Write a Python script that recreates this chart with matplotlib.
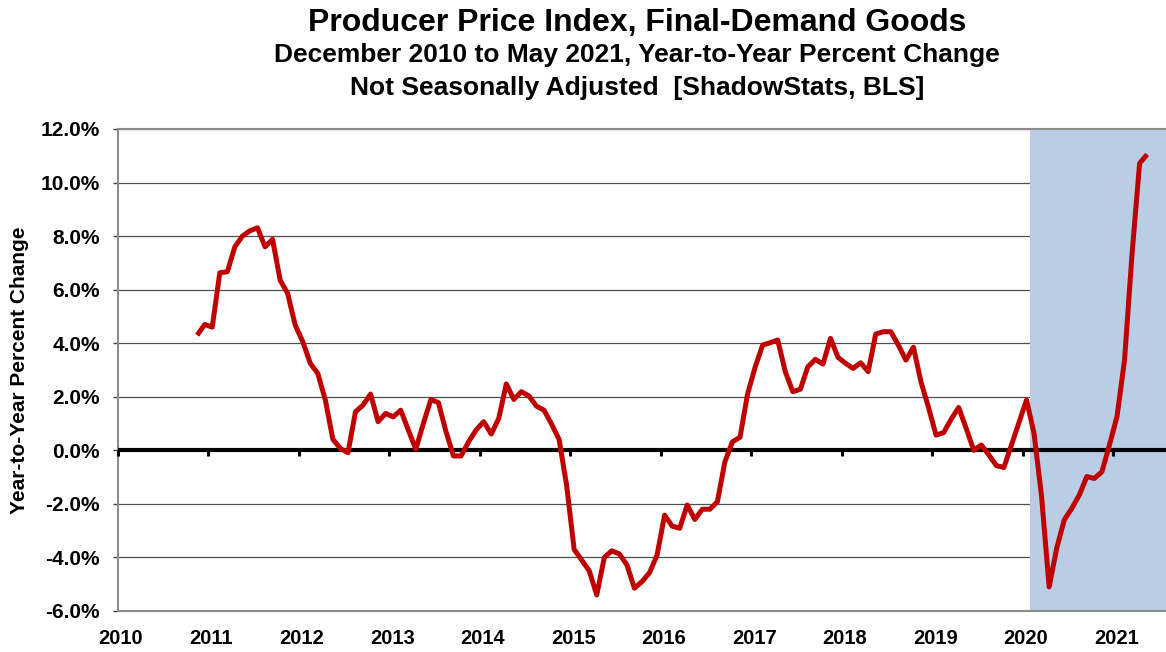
import numpy as np
import pandas as pd
import matplotlib
matplotlib.use('Agg')
import matplotlib.pyplot as plt
import matplotlib.transforms as mtransforms
from matplotlib.ticker import FuncFormatter

# PPI final-demand goods, year-to-year % change, monthly, not seas. adjusted
first_month = '2010-11'
ppi_yoy = [
    4.30, 4.70, 4.60, 6.63, 6.67, 7.60, 8.00, 8.20, 8.31, 7.60, 7.88, 6.36,
    5.86, 4.68, 4.06, 3.25, 2.87, 1.88, 0.41, 0.07, -0.09, 1.44, 1.69, 2.10,
    1.07, 1.38, 1.25, 1.50, 0.76, 0.04, 1.00, 1.90, 1.78, 0.70, -0.21, -0.21,
    0.32, 0.76, 1.07, 0.61, 1.19, 2.48, 1.90, 2.19, 2.03, 1.65, 1.50, 0.98,
    0.41, -1.30, -3.70, -4.10, -4.50, -5.40, -4.00, -3.75, -3.87, -4.28, -5.15, -4.90,
    -4.57, -3.91, -2.42, -2.83, -2.91, -2.04, -2.58, -2.20, -2.20, -1.92, -0.42, 0.32,
    0.49, 2.10, 3.10, 3.93, 4.02, 4.12, 2.94, 2.19, 2.28, 3.12, 3.40, 3.22,
    4.18, 3.47, 3.25, 3.06, 3.27, 2.94, 4.34, 4.43, 4.43, 3.93, 3.37, 3.85,
    2.56, 1.60, 0.57, 0.66, 1.16, 1.60, 0.82, 0.00, 0.20, -0.17, -0.57, -0.64,
    0.20, 1.04, 1.88, 0.63, -1.73, -5.10, -3.66, -2.60, -2.17, -1.67, -0.98, -1.05,
    -0.80, 0.20, 1.26, 3.37, 7.35, 10.72, 11.05,
]
years = list(range(2010, 2022))
y_ticks = [-6, -4, -2, 0, 2, 4, 6, 8, 10, 12]
shade_start = '2020-02'

title1 = 'Producer Price Index, Final-Demand Goods'
title2 = 'December 2010 to May 2021, Year-to-Year Percent Change'
title3 = 'Not Seasonally Adjusted  [ShadowStats, BLS]'

#%%
months = pd.date_range(first_month, periods=len(ppi_yoy), freq='MS')
x = months.year + (months.month - 0.5) / 12.0   # mid-month positions
sh = pd.Timestamp(shade_start)
x_shade = sh.year + (sh.month - 1) / 12.0
x_end = 2010 + 139 / 12.0

plt.rcParams['font.family'] = 'Liberation Sans'
plt.rcParams['font.weight'] = 'bold'

fig = plt.figure(figsize=(11.66, 6.52), dpi=100)
ax = fig.add_axes([118 / 1166, 41 / 652, 1048 / 1166, 482 / 652])

ax.set_xlim(2010, x_end)
ax.set_ylim(-6, 12)

ax.axvspan(x_shade, x_end, color='#b9cde5', lw=0, zorder=1)
ax.axhline(0, color='black', lw=3, zorder=3)
ax.plot(x, ppi_yoy, color='#c00000', lw=3.6, zorder=4, solid_capstyle='butt')

ax.set_yticks(y_ticks)
ax.yaxis.set_major_formatter(FuncFormatter(lambda v, p: f'{v:.1f}%'))
ax.set_xticks(years)
ax.set_xticklabels([str(y) for y in years])

ax.yaxis.grid(True, color='#505050', lw=0.9)
ax.set_axisbelow(True)

ax.tick_params(axis='y', direction='out', length=3.6, width=1, color='#404040',
               pad=9.5, labelsize=15)
ax.tick_params(axis='x', length=0, pad=13, labelsize=14.5)

# year labels sit a few pixels right of the tick positions
shift = mtransforms.ScaledTranslation(3 / 100, 0, fig.dpi_scale_trans)
for lab in ax.get_xticklabels():
    lab.set_transform(lab.get_transform() + shift)

ax.spines['right'].set_visible(False)
for s in ['left', 'top', 'bottom']:
    ax.spines[s].set_color('#8c8c8c')
    ax.spines[s].set_linewidth(1.5)

# year tick marks sitting on the zero line
sec = ax.secondary_xaxis(6 / 18)
sec.set_xticks(years)
sec.tick_params(axis='x', direction='out', length=4.5, width=2.2, color='black',
                labelbottom=False)
for s in sec.spines.values():
    s.set_visible(False)
sec.set_zorder(5)

ax.set_ylabel('Year-to-Year Percent Change', fontsize=15, fontweight='bold')
ax.yaxis.set_label_coords(-0.085, 0.5)

xc = 637 / 1166
fig.text(xc, 1 - 31 / 652, title1, ha='center', va='baseline', fontsize=23, fontweight='bold')
fig.text(xc, 1 - 62 / 652, title2, ha='center', va='baseline', fontsize=19, fontweight='bold')
fig.text(xc, 1 - 95 / 652, title3, ha='center', va='baseline', fontsize=19, fontweight='bold')

fig.savefig('out.png', dpi=100)
